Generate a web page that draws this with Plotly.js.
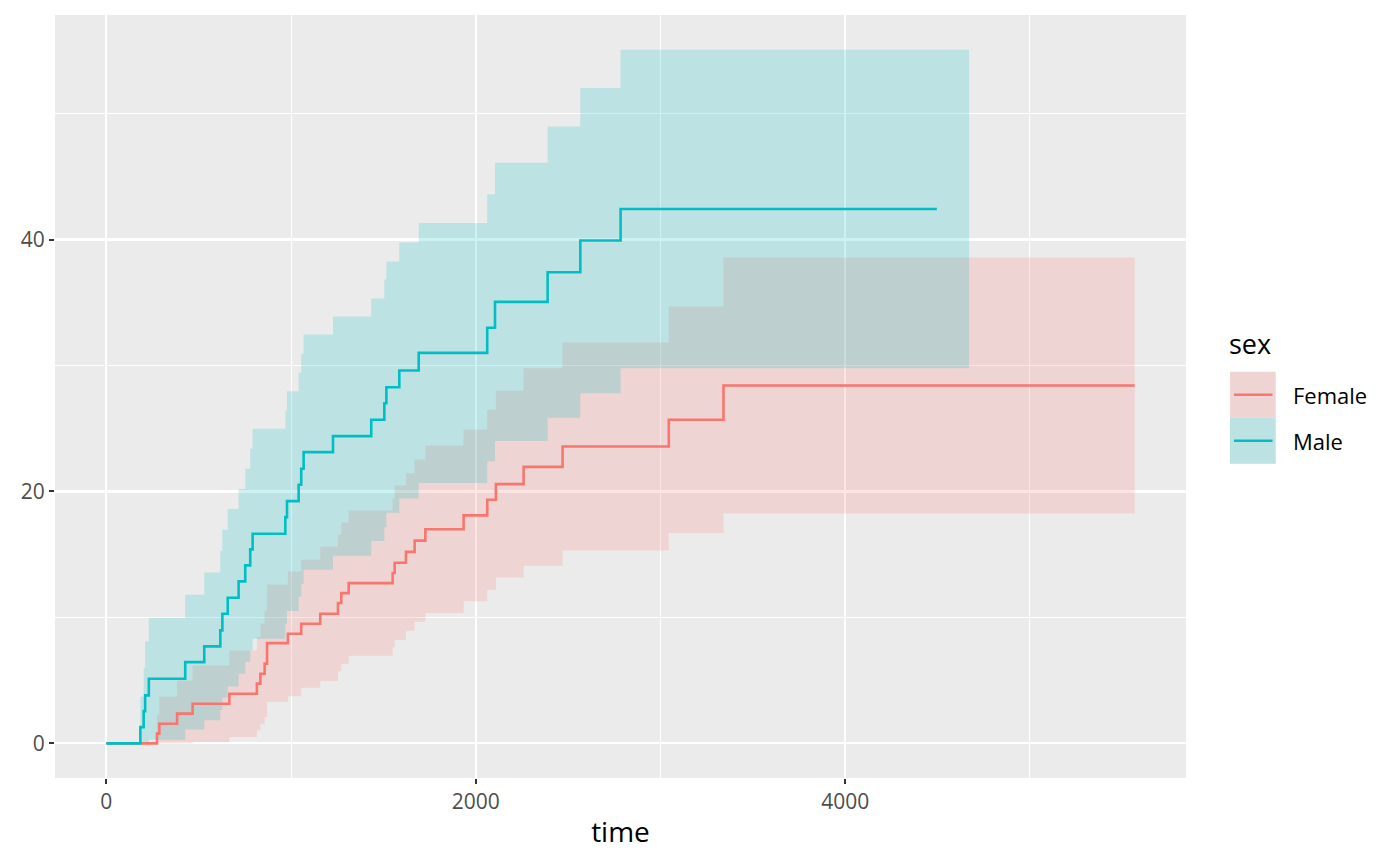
<!DOCTYPE html>
<html>
<head>
<meta charset="utf-8">
<script src="https://cdn.plot.ly/plotly-3.0.1.min.js"></script>
<style>
  body { margin: 0; background: white; }
  #plot { width: 1400px; height: 866px; }
</style>
</head>
<body>
<div id="plot"></div>
<script>
// cumulative incidence by sex
var groups = ['Female', 'Male'];

var femaleTime = [0, 274, 287, 383, 467, 666, 815, 834, 857, 870, 983, 1055, 1158, 1254, 1272, 1312,
    1550, 1561, 1622, 1669, 1727, 1934, 2062, 2109, 2259, 2470, 3045, 3341, 5567];
var femaleEst = [0, 0.77, 1.56, 2.36, 3.15, 3.94, 4.74, 5.53, 6.33, 7.96, 8.70, 9.50, 10.29, 11.14, 11.93, 12.72,
    13.53, 14.34, 15.2, 16.1, 17.0, 18.1, 19.34, 20.58, 21.95, 23.57, 25.69, 28.41, 28.41];
var femaleLow = [0, 0, 0, 0, 0.11, 0.5, 1.04, 1.56, 2.1, 3.3, 3.75, 4.42, 4.95, 5.72, 6.32, 6.95,
    7.64, 8.2, 8.95, 9.66, 10.35, 11.28, 12.2, 13.16, 14.11, 15.31, 16.7, 18.25, 18.25];
var femaleUp = [0, 2.3, 3.73, 5.0, 6.19, 7.38, 8.44, 9.5, 10.56, 12.62, 13.65, 14.58, 15.63, 16.56, 17.54, 18.49,
    19.42, 20.48, 21.45, 22.54, 23.65, 24.92, 26.48, 28.0, 29.79, 31.83, 34.68, 38.57, 38.57];

var maleTime = [0, 184, 202, 210, 230, 427, 530, 617, 628, 657, 716, 752, 779, 792, 969, 978, 1041, 1055, 1068,
    1227, 1434, 1505, 1516, 1586, 1691, 2062, 2104, 2389, 2566, 2784, 4496];
var maleEst = [0, 1.29, 2.56, 3.81, 5.13, 6.45, 7.7, 8.97, 10.29, 11.56, 12.86, 14.13, 15.4, 16.64, 17.96, 19.23, 20.53, 21.8, 23.12,
    24.39, 25.69, 27.0, 28.28, 29.6, 31.0, 33.0, 35.05, 37.41, 39.92, 42.43, 42.43];
var maleLow = [0, 0, 0, 0, 0.29, 1.1, 1.83, 2.64, 3.62, 4.52, 5.52, 6.46, 7.4, 8.31, 9.49, 10.5, 11.64, 12.67, 13.78,
    14.89, 16.06, 17.17, 18.31, 19.44, 20.68, 22.4, 24.0, 25.85, 27.8, 29.78, 29.78];
var maleUp = [0, 3.7, 6.0, 8.1, 9.97, 11.8, 13.57, 15.3, 16.96, 18.6, 20.2, 21.8, 23.4, 24.97, 26.43, 27.96, 29.42, 30.93, 32.46,
    33.89, 35.32, 36.83, 38.25, 39.76, 41.32, 43.6, 46.1, 48.97, 52.04, 55.08, 55.08];
// the male band runs on a little past the last point of the line
var maleBandEnd = 4671;

var lineColors = ['#F8766D', '#00BFC4'];
var bandColors = ['rgba(248,118,109,0.2)', 'rgba(0,191,196,0.2)'];

var bandTime = [femaleTime, maleTime.concat([maleBandEnd])];
var bandLow = [femaleLow, maleLow.concat([maleLow[maleLow.length - 1]])];
var bandUp = [femaleUp, maleUp.concat([maleUp[maleUp.length - 1]])];
var lineTime = [femaleTime, maleTime];
var lineEst = [femaleEst, maleEst];

var data = [];
for (var i = 0; i < groups.length; i++) {
    data.push({
        x: bandTime[i], y: bandLow[i],
        type: 'scatter', mode: 'lines',
        line: {width: 0, shape: 'hv'},
        showlegend: false, hoverinfo: 'skip'
    });
    data.push({
        x: bandTime[i], y: bandUp[i],
        type: 'scatter', mode: 'lines',
        line: {width: 0, shape: 'hv'},
        fill: 'tonexty', fillcolor: bandColors[i],
        showlegend: false, hoverinfo: 'skip'
    });
}
for (var j = 0; j < groups.length; j++) {
    data.push({
        x: lineTime[j], y: lineEst[j],
        type: 'scatter', mode: 'lines',
        name: groups[j],
        line: {color: lineColors[j], width: 2.6, shape: 'hv'},
        showlegend: false
    });
}

// hand-made legend in the ggplot style (filled key with a line through it)
var keyX0 = 1.0389, keyX1 = 1.0793;
var keyTops = [0.5325, 0.4722];
var keyH = 0.0603;
var shapes = [];
var annotations = [{
    text: 'sex', xref: 'paper', yref: 'paper', x: 1.0365, y: 0.5701,
    xanchor: 'left', yanchor: 'middle', showarrow: false,
    font: {size: 27, color: '#000000'}
}];
for (var k = 0; k < groups.length; k++) {
    var keyTop = keyTops[k], keyBot = keyTops[k] - keyH, keyMid = keyTop - keyH / 2;
    shapes.push({type: 'rect', xref: 'paper', yref: 'paper', x0: keyX0, x1: keyX1, y0: keyBot, y1: keyTop,
        fillcolor: '#EBEBEB', line: {width: 0}});
    shapes.push({type: 'rect', xref: 'paper', yref: 'paper', x0: keyX0, x1: keyX1, y0: keyBot, y1: keyTop,
        fillcolor: bandColors[k], line: {width: 0}});
    shapes.push({type: 'line', xref: 'paper', yref: 'paper', x0: keyX0 + 0.0035, x1: keyX1 - 0.0028,
        y0: keyMid, y1: keyMid, line: {color: lineColors[k], width: 2.6}});
    annotations.push({
        text: groups[k], xref: 'paper', yref: 'paper', x: 1.0925, y: keyMid,
        xanchor: 'left', yanchor: 'middle', showarrow: false,
        font: {size: 22, color: '#000000'}
    });
}

var layout = {
    width: 1400,
    height: 866,
    margin: {l: 55, r: 214, t: 15, b: 88},
    paper_bgcolor: '#FFFFFF',
    plot_bgcolor: '#EBEBEB',
    font: {family: 'Open Sans, Noto Sans, sans-serif'},
    showlegend: false,
    xaxis: {
        range: [-278, 5845],
        tickmode: 'linear', tick0: 0, dtick: 2000,
        ticks: 'outside', ticklen: 5, tickwidth: 2, tickcolor: '#333333',
        tickfont: {size: 21, color: '#4D4D4D'},
        showgrid: true, gridcolor: '#FFFFFF', gridwidth: 2.2,
        minor: {tick0: 0, dtick: 1000, showgrid: true, gridcolor: '#FFFFFF', gridwidth: 1.1},
        zeroline: false, showline: false,
        title: {text: 'time', font: {size: 28, color: '#000000'}, standoff: 8}
    },
    yaxis: {
        range: [-2.75, 57.83],
        tickmode: 'linear', tick0: 0, dtick: 20,
        ticks: 'outside', ticklen: 5, tickwidth: 2, tickcolor: '#333333',
        tickfont: {size: 21, color: '#4D4D4D'},
        showgrid: true, gridcolor: '#FFFFFF', gridwidth: 2.2,
        minor: {tick0: 0, dtick: 10, showgrid: true, gridcolor: '#FFFFFF', gridwidth: 1.1},
        zeroline: false, showline: false
    },
    shapes: shapes,
    annotations: annotations
};

Plotly.newPlot('plot', data, layout, {displayModeBar: false, staticPlot: true});
</script>
</body>
</html>
